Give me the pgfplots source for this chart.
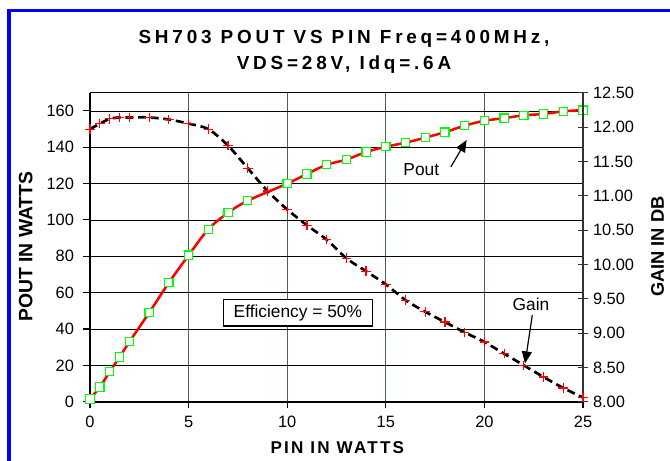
\documentclass[border=0pt]{standalone}
\usepackage{pgfplots}
\pgfplotsset{compat=1.18}
\usepackage{pgfplotstable}
\usepackage{fontspec}
\setmainfont{Liberation Sans}
\usetikzlibrary{arrows.meta}
\definecolor{grn}{RGB}{0,255,0}
\definecolor{vgrid}{RGB}{70,105,70}
\definecolor{bblue}{RGB}{0,0,255}

\pgfplotstableread{
x y
0 1.5
0.5 8.1
1 16.5
1.5 24.6
2 33
3 49
4 65.5
5 80.6
6 94.9
7 104
8 110.6
10 120
11 125.3
12 130.4
13 133.2
14 137.4
15 140.3
16 142.5
17 145.3
18 148.3
19 151.9
20 154.6
21 156
22 157.6
23 158.3
24 159.8
25 160.4
}\pout

\pgfplotstableread{
x g
0 11.97
0.5 12.05
1 12.12
1.5 12.14
2 12.14
3 12.14
4 12.11
5 12.05
6 11.97
7 11.73
8 11.40
9 11.07
10 10.80
11 10.57
12 10.36
13 10.09
14 9.90
15 9.71
16 9.48
17 9.31
18 9.16
19 9.01
20 8.87
21 8.70
22 8.53
23 8.36
24 8.20
25 8.06
}\gain

\begin{document}
\begin{tikzpicture}
\path[use as bounding box] (0pt,0pt) rectangle (502.5pt,345pt);
\draw[bblue, line width=2.4pt] (6.75pt,-3pt) -- (6.75pt,337.1pt) -- (506pt,337.1pt);

\begin{axis}[
  at={(67.5pt,43.7pt)}, anchor=south west,
  scale only axis, width=369.75pt, height=231.75pt,
  xmin=0, xmax=25, ymin=0, ymax=170,
  xtick={0,5,...,25}, ytick={0,20,...,160},
  axis line style={black, line width=0.7pt},
  tick align=outside, major tick length=5pt,
  tick style={black, line width=0.8pt},
  xtick pos=bottom, ytick pos=left,
  xmajorgrids, ymajorgrids,
  x grid style={vgrid, line width=0.6pt},
  y grid style={black, line width=0.6pt},
  /pgf/number format/assume math mode=true,
  ticklabel style={font=\fontsize{12.3}{14}\selectfont},
  yticklabel style={xshift=-3.5pt},
  xticklabel style={yshift=-2pt},
  clip=false,
]
\addplot[red, line width=1.9pt, smooth, tension=0.5,
  mark=square*, mark size=3.1pt,
  mark options={draw=grn, fill=white, line width=0.9pt, solid}]
  table[x=x, y=y] {\pout};
\draw[black, line width=1.5pt] (rel axis cs:0,1) -- (rel axis cs:0,0) -- (rel axis cs:1,0);
\node[font=\fontsize{13}{15}\selectfont] at (axis cs:16.8,127.5) {Pout};
\draw[line width=0.9pt, -{Triangle[length=9pt,width=7.5pt]}] (axis cs:18.3,129.2) -- (axis cs:19.1,144);
\node[font=\fontsize{13}{15}\selectfont] at (axis cs:22.36,53.8) {Gain};
\draw[line width=0.9pt, -{Triangle[length=9pt,width=7.5pt]}] (axis cs:22.43,47.7) -- (axis cs:22.06,21.1);
\node[draw, fill=white, line width=1.1pt, minimum width=111.75pt, minimum height=20pt, inner sep=0pt,
  font=\fontsize{13}{15}\selectfont] at (axis cs:10.54,49) {Efficiency = 50\%};
\end{axis}

\begin{axis}[
  at={(67.5pt,43.7pt)}, anchor=south west,
  scale only axis, width=369.75pt, height=231.75pt,
  xmin=0, xmax=25, ymin=8, ymax=12.5,
  axis x line=none, axis y line*=right,
  ytick={8,8.5,...,12.5},
  y axis line style={black!80, line width=1.5pt},
  tick align=center, major tick length=8pt,
  tick style={black!80, line width=0.8pt},
  /pgf/number format/assume math mode=true,
  yticklabel style={font=\fontsize{12.3}{14}\selectfont, /pgf/number format/.cd, fixed, fixed zerofill, precision=2},
  clip=false,
]
\addplot[black, line width=2pt, dash pattern=on 6pt off 3.5pt, smooth, tension=0.5,
  mark=+, mark size=3.6pt,
  mark options={red, line width=0.9pt, solid}]
  table[x=x, y=g] {\gain};
\end{axis}

\node[anchor=base, font=\bfseries\fontsize{14.2}{16}\selectfont\addfontfeature{LetterSpace=20}] at (258pt,312pt) {SH703 POUT VS PIN Freq=400MHz,};
\node[anchor=base, font=\bfseries\fontsize{14.2}{16}\selectfont\addfontfeature{LetterSpace=20}] at (258pt,292.5pt) {VDS=28V, Idq=.6A};
\node[anchor=base, font=\bfseries\fontsize{12.8}{15}\selectfont\addfontfeature{LetterSpace=13}] at (253pt,5pt) {PIN IN WATTS};
\node[rotate=90, font=\bfseries\fontsize{14.5}{16}\selectfont] at (19.35pt,160pt) {POUT IN WATTS};
\node[rotate=90, font=\bfseries\fontsize{13.7}{16}\selectfont] at (493.1pt,160pt) {GAIN IN DB};
\end{tikzpicture}
\end{document}
